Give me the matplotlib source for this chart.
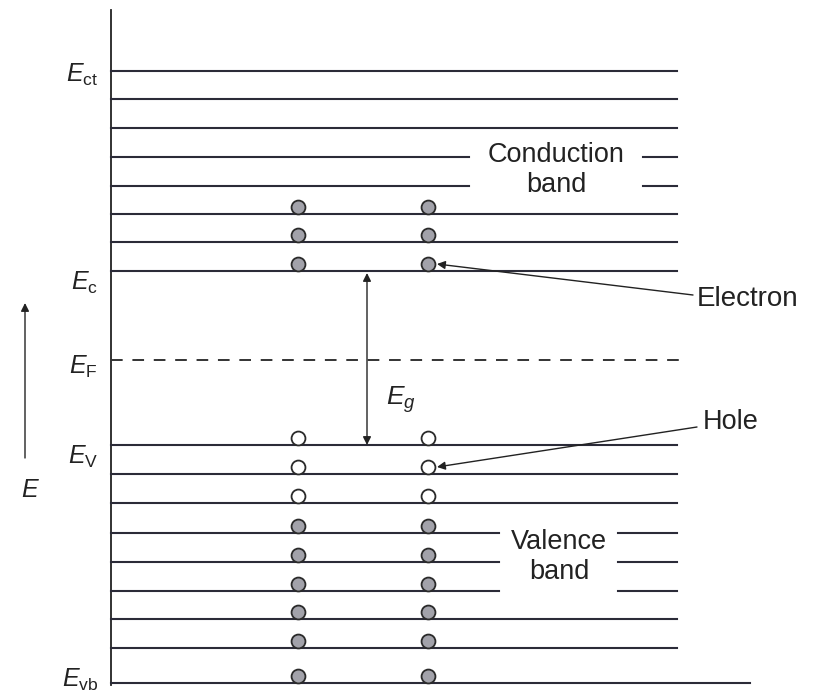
import matplotlib
matplotlib.use("Agg")
import matplotlib.pyplot as plt

plt.rcParams['mathtext.fontset'] = 'custom'
plt.rcParams['mathtext.rm'] = 'Liberation Sans'
plt.rcParams['mathtext.it'] = 'Liberation Sans:italic'
plt.rcParams['font.family'] = ['Liberation Sans', 'DejaVu Sans']

# ---- data (vertical positions in picture units, top = 0) ----
conduction_levels = [71, 99, 128, 157, 186, 214, 242, 271]
conduction_broken = [157, 186]
fermi_level = 360
valence_levels = [445, 474, 503, 533, 562, 591, 619, 648, 683]
valence_broken = [533, 562, 591]
electron_levels = [214, 242, 271]
hole_levels = [445, 474, 503]
filled_valence_levels = [533, 562, 591, 619, 648, 683]
carrier_columns = [298, 428]

level_labels = [r'$E_{\mathrm{ct}}$', r'$E_{\mathrm{c}}$', r'$E_{\mathrm{F}}$',
                r'$E_{\mathrm{V}}$', r'$E_{\mathrm{vb}}$']
label_levels = [71, 271, 360, 445, 683]
label_offsets = [4, 12, 7, 12, -3]

x_left, x_right = 111, 677
line_col = '#2b2b38'

fig = plt.figure(figsize=(8.16, 6.92), dpi=100)
ax = fig.add_axes([0, 0, 1, 1])
ax.set_xlim(0, 816)
ax.set_ylim(692, 0)
ax.axis('off')

# vertical axis line
ax.plot([x_left, x_left], [10, 685], color='#222', lw=1.3)

# conduction band levels
for y in conduction_levels:
    if y in conduction_broken:
        ax.plot([x_left, 469], [y, y], color=line_col, lw=1.5)
        ax.plot([643, x_right], [y, y], color=line_col, lw=1.5)
    else:
        ax.plot([x_left, x_right], [y, y], color=line_col, lw=1.5)

# valence band levels
for i, y in enumerate(valence_levels):
    xr = 750 if i == len(valence_levels) - 1 else x_right
    if y in valence_broken:
        ax.plot([x_left, 499], [y, y], color=line_col, lw=1.5)
        ax.plot([618, x_right], [y, y], color=line_col, lw=1.5)
    else:
        ax.plot([x_left, xr], [y, y], color=line_col, lw=1.5)

# Fermi level
ax.plot([x_left, 680], [fermi_level, fermi_level], color='#333', lw=1.4,
        dashes=(6, 5))

# carriers
r = 7
for x in carrier_columns:
    for y in electron_levels + filled_valence_levels:
        ax.plot(x, y - r, 'o', ms=10, mfc='#a2a2aa', mec='#2a2a2a', mew=1.3)
    for y in hole_levels:
        ax.plot(x, y - r, 'o', ms=10, mfc='white', mec='#2a2a2a', mew=1.3)

# band gap arrow
ax.annotate('', xy=(367, conduction_levels[-1] + 2), xytext=(367, valence_levels[0]),
            arrowprops=dict(arrowstyle='<|-|>', color='#222', lw=1.0,
                            mutation_scale=12, shrinkA=0, shrinkB=0))
ax.text(386, 400, r'$E_g$', fontsize=19, ha='left', va='center', color='#222')

# level labels
for lab, y, off in zip(level_labels, label_levels, label_offsets):
    ax.text(98, y + off, lab, fontsize=18, ha='right', va='center', color='#222')

# energy arrow
ax.annotate('', xy=(25, 303), xytext=(25, 458),
            arrowprops=dict(arrowstyle='-|>', color='#222', lw=1.0,
                            mutation_scale=12, shrinkA=0, shrinkB=0))
ax.text(30, 490, r'$E$', fontsize=18, ha='center', va='center', color='#222')

# band names
ax.text(556, 170, 'Conduction\nband', fontsize=19.5, ha='center', va='center',
        linespacing=1.2, color='#222')
ax.text(559, 557, 'Valence\nband', fontsize=19.5, ha='center', va='center',
        linespacing=1.2, color='#222')

# electron / hole annotations
ax.annotate('', xy=(437, electron_levels[-1] - r), xytext=(693, 295),
            arrowprops=dict(arrowstyle='-|>', color='#222', lw=1.0,
                            mutation_scale=12, shrinkA=0, shrinkB=0))
ax.text(697, 299, 'Electron', fontsize=20, ha='left', va='center', color='#222')
ax.annotate('', xy=(437, hole_levels[1] - r), xytext=(697, 427),
            arrowprops=dict(arrowstyle='-|>', color='#222', lw=1.0,
                            mutation_scale=12, shrinkA=0, shrinkB=0))
ax.text(703, 422, 'Hole', fontsize=19.5, ha='left', va='center', color='#222')

fig.savefig('out.png', dpi=100)
